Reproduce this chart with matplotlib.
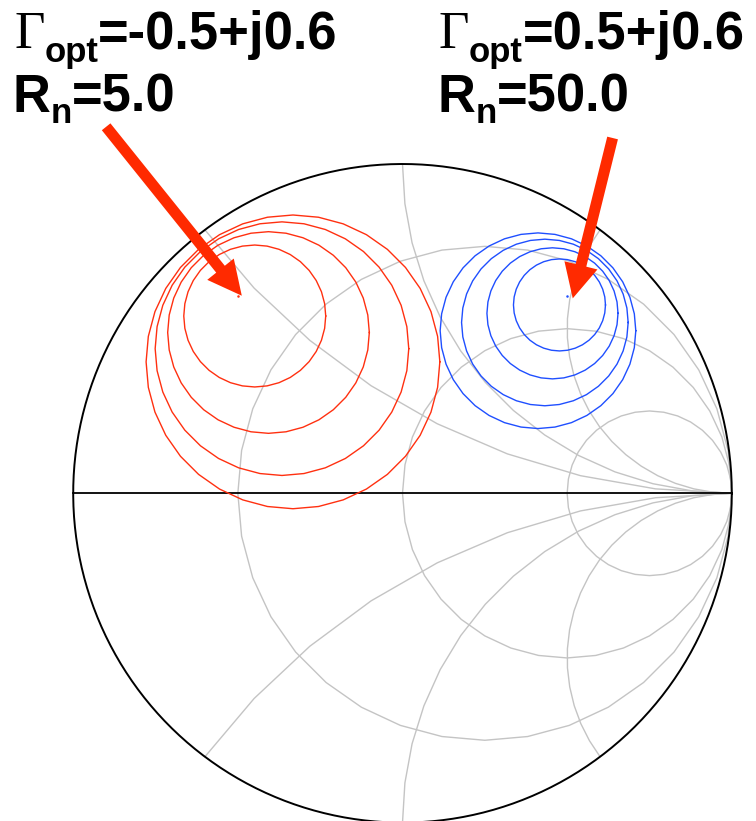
import numpy as np
import matplotlib
matplotlib.use('Agg')
import matplotlib.pyplot as plt
from matplotlib.patches import FancyArrow

W, H = 756, 821

# device data: optimum source reflection and noise resistance
gamma_opt = [complex(-0.5, 0.6), complex(0.5, 0.6)]
rn_ohm = [5.0, 50.0]
z0 = 50.0
# noise figure steps above Fmin (linear) for each drawn circle
dF = [0.075, 0.15, 0.24, 0.33]
circle_colors = ['#ff3010', '#1f4fff']

# smith chart grid values
r_grid = [1/3, 1.0, 3.0]
x_grid = [0.5, 1.0, 2.0, -0.5, -1.0, -2.0]

# label texts
gamma_txt = ['=-0.5+j0.6', '=0.5+j0.6']
rn_txt = ['=5.0', '=50.0']

fig = plt.figure(figsize=(W / 100, H / 100), dpi=100)
ax = fig.add_axes([0, 0, 1, 1])
ax.axis('off')
cx, cy, R = 402.5, 493.3, 329.3
ax.set_xlim(-cx / R, (W - cx) / R)
ax.set_ylim((cy - H) / R, cy / R)

grid_kw = dict(color='#c4c4c4', lw=1.0, zorder=1)

# constant resistance circles
for r in r_grid:
    t = np.radians(np.arange(0, 361, 10))
    c, rad = r / (1 + r), 1 / (1 + r)
    ax.plot(c + rad * np.cos(t), rad * np.sin(t), **grid_kw)

# constant reactance arcs, from the rim to the open-circuit point
for x in x_grid:
    ccen = complex(1, 1 / x)
    rad = 1 / abs(x)
    g_edge = (1j * x - 1) / (1j * x + 1)
    a0 = np.angle(g_edge - ccen)
    a1 = np.angle(complex(1, 0) - ccen)
    if x > 0:
        a0 = a0 % (2 * np.pi)
        a1 = a1 % (2 * np.pi)
    else:
        a0 = -((-a0) % (2 * np.pi))
        a1 = -((-a1) % (2 * np.pi))
    n = int(np.ceil(abs(a1 - a0) / np.radians(7))) + 1
    a = np.linspace(a0, a1, n)
    ax.plot(ccen.real + rad * np.cos(a), ccen.imag + rad * np.sin(a), **grid_kw)

# outer rim and real axis
t = np.linspace(0, 2 * np.pi, 400)
ax.plot(np.cos(t), np.sin(t), color='black', lw=1.4, zorder=3)
ax.plot([-1, 1], [0, 0], color='black', lw=1.3, zorder=3)

# noise circles
for g, rn, col in zip(gamma_opt, rn_ohm, circle_colors):
    for df in dF:
        N = df * abs(1 + g) ** 2 / (4 * rn / z0)
        c = g / (1 + N)
        rad = np.sqrt(N * (N + 1 - abs(g) ** 2)) / (1 + N)
        tt = np.radians(np.arange(0, 361, 10))
        ax.plot(c.real + rad * np.cos(tt), c.imag + rad * np.sin(tt),
                color=col, lw=1.0, zorder=4)
    ax.plot(g.real, g.imag, 'o', color=col, ms=0.8, zorder=4)

# arrows pointing at the optimum points
arrow_tail = [(-0.40, 0.513), (0.138, 0.479)]
arrow_tip = [(0.012, 0.0), (0.017, -0.008)]
for g, tail, tip in zip(gamma_opt, arrow_tail, arrow_tip):
    tx, ty = g.real + tip[0], g.imag + tip[1]
    sx, sy = g.real + tail[0], g.imag + tail[1]
    ax.add_patch(FancyArrow(sx, sy, tx - sx, ty - sy, width=11 / R,
                            head_width=34 / R, head_length=34 / R,
                            length_includes_head=True, color='#ff2a00',
                            lw=0, zorder=6))

# labels built from runs so the subscripts sit under the baseline
renderer = fig.canvas.get_renderer()
SANS = 'Liberation Sans'


def put_runs(x0, base, runs):
    x = x0
    for s, size, fam, wt, drop in runs:
        t = fig.text(x / W, 1 - (base + drop) / H, s, fontsize=size,
                     family=fam, weight=wt, ha='left', va='baseline')
        x += t.get_window_extent(renderer=renderer).width


for x0, gt, rt in zip([14.0, 438.5], gamma_txt, rn_txt):
    put_runs(x0, 48.5, [('Γ', 38, 'Liberation Serif', 'normal', 0),
                        ('opt', 25, SANS, 'bold', 13.4),
                        (gt, 37.8, SANS, 'bold', 0)])
    put_runs(x0 - 1, 111.8, [('R', 37.8, SANS, 'bold', 0),
                             ('n', 25, SANS, 'bold', 11.6),
                             (rt, 37.8, SANS, 'bold', 0)])

fig.savefig('out.png', dpi=100)
